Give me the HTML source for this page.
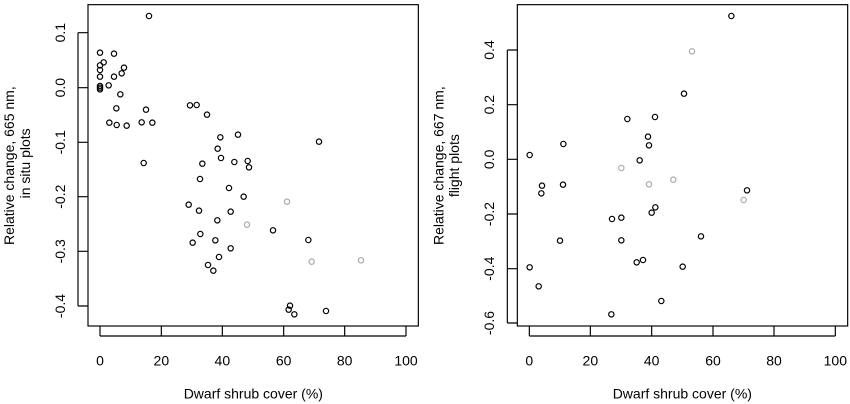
<!DOCTYPE html>
<html><head><style>html,body{margin:0;padding:0;background:#fff;}svg{display:block}</style></head>
<body>
<svg width="850" height="404" viewBox="0 0 2550 1212" xmlns="http://www.w3.org/2000/svg" font-family="Liberation Sans, Arial, sans-serif" font-size="42">
<g fill="none" stroke="#000" stroke-width="3.5">
<rect x="264" y="14" width="991" height="964"/>
<path d="M300 978v30M484 978v30M667 978v30M851 978v30M1034 978v30M1218 978v30M300 1008H1218"/>
<path d="M264 98h-30M264 263h-30M264 427h-30M264 590h-30M264 754h-30M264 918h-30M234 98V918"/>
</g>
<g fill="#000" text-anchor="middle">
<text x="300" y="1097">0</text><text x="484" y="1097">20</text><text x="667" y="1097">40</text><text x="851" y="1097">60</text><text x="1034" y="1097">80</text><text x="1218" y="1097">100</text>
<text transform="translate(195,98) rotate(-90)">0.1</text>
<text transform="translate(195,263) rotate(-90)">0.0</text>
<text transform="translate(195,427) rotate(-90)">-0.1</text>
<text transform="translate(195,590) rotate(-90)">-0.2</text>
<text transform="translate(195,754) rotate(-90)">-0.3</text>
<text transform="translate(195,918) rotate(-90)">-0.4</text>
<text x="760" y="1195">Dwarf shrub cover (%)</text>
<text transform="translate(42,497) rotate(-90)">Relative change, 665 nm,</text>
<text transform="translate(90,490) rotate(-90)">in situ plots</text>
</g>
<g fill="none" stroke="#000" stroke-width="3.5">
<circle cx="447" cy="48" r="8"/><circle cx="300" cy="158" r="8"/><circle cx="342" cy="161" r="8"/><circle cx="311" cy="187" r="8"/><circle cx="300" cy="196" r="8"/><circle cx="372" cy="203" r="8"/><circle cx="300" cy="210" r="8"/><circle cx="365" cy="220" r="8"/><circle cx="342" cy="230" r="8"/><circle cx="300" cy="230" r="8"/><circle cx="300" cy="258" r="8"/><circle cx="300" cy="263" r="8"/><circle cx="300" cy="268" r="8"/><circle cx="326" cy="256" r="8"/><circle cx="361" cy="283" r="8"/><circle cx="349" cy="325" r="8"/><circle cx="438" cy="329" r="8"/><circle cx="328" cy="368" r="8"/><circle cx="350" cy="375" r="8"/><circle cx="380" cy="377" r="8"/><circle cx="425" cy="367" r="8"/><circle cx="457" cy="368" r="8"/><circle cx="570" cy="316" r="8"/><circle cx="590" cy="315" r="8"/><circle cx="621" cy="344" r="8"/><circle cx="714" cy="404" r="8"/><circle cx="661" cy="412" r="8"/><circle cx="957" cy="425" r="8"/><circle cx="653" cy="446" r="8"/><circle cx="663" cy="474" r="8"/><circle cx="607" cy="491" r="8"/><circle cx="703" cy="486" r="8"/><circle cx="743" cy="483" r="8"/><circle cx="747" cy="502" r="8"/><circle cx="431" cy="489" r="8"/><circle cx="600" cy="537" r="8"/><circle cx="687" cy="564" r="8"/><circle cx="731" cy="590" r="8"/><circle cx="566" cy="614" r="8"/><circle cx="597" cy="632" r="8"/><circle cx="692" cy="635" r="8"/><circle cx="652" cy="661" r="8"/><circle cx="601" cy="702" r="8"/><circle cx="578" cy="728" r="8"/><circle cx="646" cy="721" r="8"/><circle cx="692" cy="745" r="8"/><circle cx="657" cy="771" r="8"/><circle cx="624" cy="795" r="8"/><circle cx="640" cy="812" r="8"/><circle cx="819" cy="691" r="8"/><circle cx="925" cy="720" r="8"/><circle cx="870" cy="917" r="8"/><circle cx="866" cy="929" r="8"/><circle cx="883" cy="943" r="8"/><circle cx="978" cy="933" r="8"/>
</g>
<g fill="none" stroke="#aaa" stroke-width="3.5">
<circle cx="861" cy="605" r="8"/><circle cx="741" cy="674" r="8"/><circle cx="935" cy="785" r="8"/><circle cx="1083" cy="781" r="8"/>
</g>

<g transform="translate(1260,0)">
<g fill="none" stroke="#000" stroke-width="3.5">
<rect x="292" y="14" width="991" height="964"/>
<path d="M328 978v30M511 978v30M695 978v30M879 978v30M1062 978v30M1246 978v30M328 1008H1246"/>
<path d="M292 150h-30M292 314h-30M292 478h-30M292 642h-30M292 806h-30M292 969h-30M262 150V969"/>
</g>
<g fill="#000" text-anchor="middle">
<text x="328" y="1097">0</text><text x="511" y="1097">20</text><text x="695" y="1097">40</text><text x="879" y="1097">60</text><text x="1062" y="1097">80</text><text x="1246" y="1097">100</text>
<text transform="translate(222,150) rotate(-90)">0.4</text>
<text transform="translate(222,314) rotate(-90)">0.2</text>
<text transform="translate(222,478) rotate(-90)">0.0</text>
<text transform="translate(222,642) rotate(-90)">-0.2</text>
<text transform="translate(222,806) rotate(-90)">-0.4</text>
<text transform="translate(222,969) rotate(-90)">-0.6</text>
<text x="787" y="1195">Dwarf shrub cover (%)</text>
<text transform="translate(70,497) rotate(-90)">Relative change, 667 nm,</text>
<text transform="translate(117,497) rotate(-90)">flight plots</text>
</g>
<g fill="none" stroke="#000" stroke-width="3.5">
<circle cx="934" cy="48" r="8"/><circle cx="792" cy="281" r="8"/><circle cx="622" cy="357" r="8"/><circle cx="705" cy="351" r="8"/><circle cx="684" cy="410" r="8"/><circle cx="687" cy="436" r="8"/><circle cx="430" cy="432" r="8"/><circle cx="329" cy="465" r="8"/><circle cx="659" cy="481" r="8"/><circle cx="366" cy="557" r="8"/><circle cx="364" cy="580" r="8"/><circle cx="429" cy="554" r="8"/><circle cx="981" cy="571" r="8"/><circle cx="706" cy="622" r="8"/><circle cx="695" cy="638" r="8"/><circle cx="576" cy="657" r="8"/><circle cx="604" cy="653" r="8"/><circle cx="420" cy="722" r="8"/><circle cx="604" cy="721" r="8"/><circle cx="843" cy="709" r="8"/><circle cx="329" cy="802" r="8"/><circle cx="650" cy="787" r="8"/><circle cx="669" cy="780" r="8"/><circle cx="788" cy="800" r="8"/><circle cx="356" cy="859" r="8"/><circle cx="724" cy="903" r="8"/><circle cx="574" cy="943" r="8"/>
</g>
<g fill="none" stroke="#aaa" stroke-width="3.5">
<circle cx="816" cy="154" r="8"/><circle cx="604" cy="504" r="8"/><circle cx="687" cy="553" r="8"/><circle cx="760" cy="539" r="8"/><circle cx="971" cy="600" r="8"/>
</g>
</g>
</svg>
</body></html>
